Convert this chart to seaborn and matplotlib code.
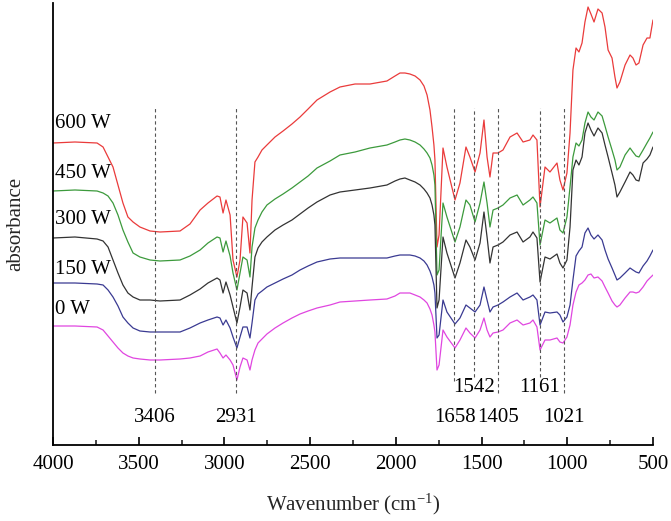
import matplotlib
matplotlib.use("Agg")
import matplotlib.pyplot as plt
import seaborn as sns
import pandas as pd
from matplotlib.ticker import MultipleLocator

# ---------------- data ----------------
wavenumber = [4000, 3872, 3743, 3708, 3679, 3650, 3621, 3592, 3563, 3533, 3493, 3434, 3376,
              3259, 3201, 3142, 3096, 3043,
              3026, 3008, 2991, 2967, 2950, 2927, 2909, 2892, 2868, 2851, 2839,
              2822, 2804, 2781, 2752, 2705, 2658, 2606, 2559, 2512, 2460, 2384, 2326, 2238,
              2151, 2052, 2005, 1976, 1947, 1918, 1888, 1859, 1836, 1818, 1801, 1789, 1778, 1772,
              1760, 1748, 1725, 1702, 1655, 1626, 1591, 1568, 1538, 1509, 1486, 1468, 1451,
              1433, 1404, 1375, 1334, 1293, 1258, 1218, 1200, 1177, 1159, 1130, 1101, 1060,
              1043, 1025,
              1002, 984, 967, 949, 932, 914, 897, 879, 862, 844, 821, 797, 780, 762, 739, 722,
              710, 693, 663, 634, 617, 599, 582, 558, 535, 518, 500]

abs_600 = [3.02, 3.03, 3.02, 2.98, 2.88, 2.78, 2.60, 2.42, 2.28, 2.23, 2.18, 2.14, 2.13,
           2.14, 2.21, 2.35, 2.42, 2.49,
           2.48, 2.32, 2.45, 2.30, 1.85, 1.68, 1.85, 2.28, 2.22, 1.92, 2.45,
           2.83, 2.88, 2.95, 3.00, 3.08, 3.14, 3.21, 3.28, 3.36, 3.45, 3.53, 3.58, 3.61,
           3.61, 3.64, 3.69, 3.72, 3.72, 3.71, 3.69, 3.65, 3.59, 3.50, 3.35, 3.18, 3.00, 2.85,
           1.98, 2.10, 2.97, 2.78, 2.45, 2.62, 2.98, 2.88, 2.73, 2.92, 3.25, 2.88, 2.68,
           2.92, 2.92, 2.95, 3.08, 3.12, 3.03, 3.05, 3.10, 3.05, 2.38, 2.78, 2.73, 2.82,
           2.65, 2.55,
           2.72, 3.12, 3.75, 3.97, 3.93, 4.02, 4.23, 4.38, 4.31, 4.23, 4.36, 4.32, 4.18,
           3.95, 3.87, 3.68, 3.57, 3.63, 3.80, 3.90, 3.87, 3.80, 3.82, 4.00, 4.07, 4.07, 4.25]

abs_450 = [2.54, 2.55, 2.54, 2.52, 2.49, 2.42, 2.30, 2.15, 2.03, 1.92, 1.88, 1.85, 1.84,
           1.85, 1.89, 1.95, 2.02, 2.08,
           2.07, 1.93, 2.04, 1.89, 1.72, 1.55, 1.72, 1.88, 1.85, 1.68, 1.98,
           2.17, 2.25, 2.33, 2.40, 2.46, 2.51, 2.57, 2.63, 2.69, 2.77, 2.84, 2.90, 2.93,
           2.97, 3.00, 3.03, 3.05, 3.06, 3.05, 3.03, 3.00, 2.96, 2.92, 2.87, 2.80, 2.70, 2.60,
           1.70, 1.75, 2.42, 2.28, 2.03, 2.18, 2.45, 2.40, 2.23, 2.42, 2.63, 2.42, 2.18,
           2.35, 2.37, 2.40, 2.47, 2.50, 2.40, 2.45, 2.48, 2.42, 2.00, 2.25, 2.22, 2.27,
           2.15, 2.12,
           2.28, 2.58, 2.88, 3.02, 2.99, 3.05, 3.22, 3.33, 3.28, 3.25, 3.33, 3.29, 3.19,
           3.08, 2.95, 2.85, 2.75, 2.78, 2.90, 2.97, 2.93, 2.89, 2.88, 2.95, 3.02, 3.07, 3.13]

abs_300 = [2.07, 2.08, 2.06, 2.04, 1.98, 1.85, 1.72, 1.60, 1.52, 1.48, 1.45, 1.45, 1.44,
           1.45, 1.50, 1.56, 1.62, 1.67,
           1.65, 1.52, 1.63, 1.50, 1.38, 1.22, 1.38, 1.55, 1.52, 1.35, 1.58,
           1.88, 1.97, 2.03, 2.08, 2.15, 2.20, 2.25, 2.31, 2.37, 2.43, 2.50, 2.53, 2.55,
           2.57, 2.60, 2.64, 2.66, 2.67, 2.65, 2.63, 2.60, 2.56, 2.52, 2.47, 2.40, 2.30, 2.20,
           1.37, 1.45, 2.08, 1.92, 1.67, 1.82, 2.05, 1.98, 1.85, 2.02, 2.33, 2.08, 1.82,
           1.98, 2.00, 2.03, 2.10, 2.13, 2.03, 2.08, 2.13, 2.07, 1.63, 1.88, 1.86, 1.91,
           1.82, 1.77,
           1.85, 2.18, 2.75, 2.85, 2.80, 2.88, 3.12, 3.22, 3.15, 3.09, 3.17, 3.12, 3.00,
           2.88, 2.72, 2.60, 2.48, 2.53, 2.63, 2.73, 2.70, 2.65, 2.64, 2.82, 2.86, 2.90, 2.98]

abs_150 = [1.62, 1.62, 1.61, 1.60, 1.55, 1.48, 1.39, 1.28, 1.22, 1.17, 1.14, 1.13, 1.13,
           1.13, 1.17, 1.22, 1.25, 1.28,
           1.27, 1.20, 1.25, 1.17, 1.08, 0.97, 1.08, 1.18, 1.18, 1.07, 1.22,
           1.45, 1.51, 1.54, 1.58, 1.62, 1.66, 1.70, 1.75, 1.79, 1.83, 1.86, 1.87, 1.87,
           1.87, 1.87, 1.89, 1.90, 1.90, 1.90, 1.89, 1.87, 1.84, 1.80, 1.74, 1.68, 1.60, 1.52,
           1.07, 1.10, 1.45, 1.33, 1.21, 1.27, 1.40, 1.37, 1.33, 1.40, 1.58, 1.45, 1.33,
           1.38, 1.40, 1.43, 1.48, 1.52, 1.45, 1.48, 1.50, 1.45, 1.20, 1.33, 1.32, 1.33,
           1.30, 1.23,
           1.28, 1.40, 1.65, 1.89, 1.94, 1.98, 2.12, 2.17, 2.10, 2.06, 2.10, 2.05, 1.95,
           1.86, 1.77, 1.70, 1.65, 1.67, 1.72, 1.77, 1.75, 1.73, 1.72, 1.79, 1.84, 1.89, 1.95]

abs_0 = [1.19, 1.19, 1.18, 1.15, 1.09, 1.03, 0.97, 0.92, 0.89, 0.87, 0.86, 0.85, 0.85,
         0.86, 0.87, 0.89, 0.93, 0.96,
         0.92, 0.87, 0.90, 0.85, 0.80, 0.65, 0.78, 0.87, 0.85, 0.75, 0.85,
         0.95, 1.02, 1.06, 1.11, 1.17, 1.22, 1.27, 1.31, 1.34, 1.37, 1.40, 1.43, 1.44,
         1.45, 1.46, 1.49, 1.52, 1.52, 1.52, 1.50, 1.48, 1.45, 1.42, 1.36, 1.30, 1.20, 1.13,
         0.75, 0.80, 1.15, 1.08, 0.97, 1.05, 1.17, 1.12, 1.07, 1.15, 1.27, 1.15, 1.08,
         1.12, 1.13, 1.15, 1.22, 1.25, 1.20, 1.22, 1.25, 1.18, 0.95, 1.05, 1.05, 1.07,
         1.03, 1.02,
         1.08, 1.20, 1.40, 1.53, 1.60, 1.62, 1.65, 1.70, 1.71, 1.67, 1.68, 1.64, 1.58,
         1.52, 1.44, 1.40, 1.38, 1.40, 1.47, 1.53, 1.53, 1.52, 1.53, 1.58, 1.64, 1.67, 1.70]

series_names = ["600 W", "450 W", "300 W", "150 W", "0 W"]
series_values = [abs_600, abs_450, abs_300, abs_150, abs_0]
series_colors = ["#ea3b3b", "#3c9a3c", "#333333", "#3a3a92", "#e046e0"]
label_y = [3.22, 2.72, 2.25, 1.76, 1.35]

peaks = [3406, 2931, 1658, 1542, 1405, 1161, 1021]
peak_label_y = [0.28, 0.28, 0.28, 0.58, 0.28, 0.58, 0.28]
peak_line_bottom = [0.52, 0.52, 0.64, 0.68, 0.52, 0.68, 0.52]
peak_line_top = 3.37

x_ticks = [4000, 3500, 3000, 2500, 2000, 1500, 1000, 500]

# ---------------- build table ----------------
frames = []
for name, vals in zip(series_names, series_values):
    assert len(vals) == len(wavenumber), (name, len(vals), len(wavenumber))
    frames.append(pd.DataFrame({"wavenumber": wavenumber, "absorbance": vals, "sample": name}))
df = pd.concat(frames, ignore_index=True)

# ---------------- style ----------------
sns.set_theme(style="ticks")
plt.rcParams["font.family"] = ["Liberation Serif", "DejaVu Serif"]
plt.rcParams["mathtext.fontset"] = "custom"
plt.rcParams["mathtext.rm"] = "Liberation Serif"
plt.rcParams["mathtext.it"] = "Liberation Serif:italic"

fig = plt.figure(figsize=(6.71, 5.21), dpi=100)
ax = fig.add_axes([53 / 671, (521 - 445) / 521, 600 / 671, 442 / 521])

sns.lineplot(data=df, x="wavenumber", y="absorbance", hue="sample",
             palette=dict(zip(series_names, series_colors)), sort=False,
             estimator=None, linewidth=0.9, legend=False, ax=ax)

ax.set_xlim(4000, 500)
ax.set_ylim(0, 4.42)

for name, yy in zip(series_names, label_y):
    ax.text(3988, yy, name, ha="left", va="center", fontsize=15, color="black")

for p, ly, lb in zip(peaks, peak_label_y, peak_line_bottom):
    ax.vlines(p, lb, peak_line_top, colors="#555555", linestyles=(0, (3, 2.5)), linewidth=0.8)
    ax.text(p, ly, str(p), ha="center", va="center", fontsize=15, color="black")

ax.set_xticks(x_ticks)
ax.xaxis.set_minor_locator(MultipleLocator(250))
ax.set_yticks([])
ax.tick_params(axis="x", which="major", direction="in", length=6, width=1.2,
               labelsize=15, pad=7, colors="black")
ax.tick_params(axis="x", which="minor", direction="in", length=3.5, width=1.2)
for s in ["top", "right"]:
    ax.spines[s].set_visible(False)
for s in ["left", "bottom"]:
    ax.spines[s].set_linewidth(1.3)
    ax.spines[s].set_color("black")

ax.set_xlabel("Wavenumber (cm$^{-1}$)", fontsize=15, labelpad=13)
ax.set_ylabel("absorbance", fontsize=15, labelpad=20)

fig.savefig("out.png", dpi=100)
